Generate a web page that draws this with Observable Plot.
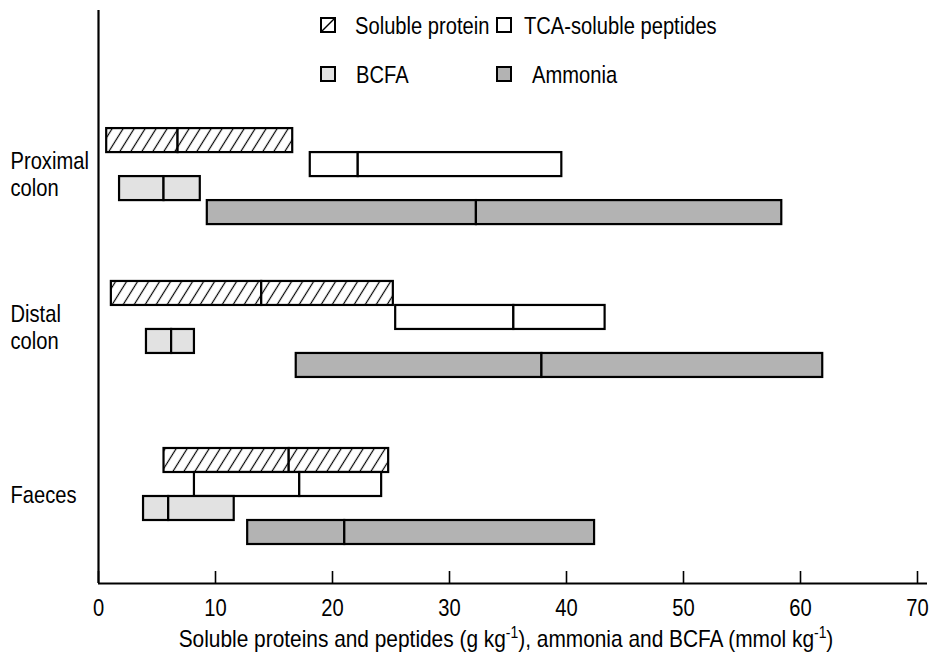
<!DOCTYPE html>
<html><head><meta charset="utf-8">
<script src="https://cdn.jsdelivr.net/npm/d3@7"></script>
<script src="https://cdn.jsdelivr.net/npm/@observablehq/plot@0.6"></script>
<style>body{margin:0;background:#fff} svg{display:block}</style>
</head><body><div id="chart"></div>
<script>
// ---- data ----
const sites = ["Proximal colon", "Distal colon", "Faeces"];
const siteLabels = ["Proximal\ncolon", "Distal\ncolon", "Faeces"];
const series = ["Soluble protein", "TCA-soluble peptides", "BCFA", "Ammonia"];
// low / median / high per site (order of `sites`)
const solubleProteinLow  = [0.7, 1.1, 5.6];
const solubleProteinMid  = [6.8, 13.95, 16.3];
const solubleProteinHigh = [16.6, 25.2, 24.8];
const tcaLow  = [18.1, 25.4, 8.2];
const tcaMid  = [22.2, 35.5, 17.2];
const tcaHigh = [39.6, 43.3, 24.2];
const bcfaLow  = [1.8, 4.1, 3.85];
const bcfaMid  = [5.6, 6.25, 6.0];
const bcfaHigh = [8.7, 8.2, 11.6];
const ammoniaLow  = [9.3, 16.9, 12.75];
const ammoniaMid  = [32.3, 37.9, 21.05];
const ammoniaHigh = [58.4, 61.9, 42.4];
const xTicks = [0, 10, 20, 30, 40, 50, 60, 70];
const xLabelParts = ["Soluble proteins and peptides (g kg", "-1", "), ammonia and BCFA (mmol kg", "-1", ")"];

// ---- layout ----
const W = 932, H = 663, mL = 98, mR = 15, mT = 10, mB = 80;
const yMax = 23.875;              // rows of 24px over the frame
const groupStart = [4.92, 11.29, 18.25];
const fills = ["url(#hatch)", "white", "#e2e2e2", "#b3b3b3"];
const FONT = "'Liberation Sans',Arial,sans-serif";
const CONDENSE = 0.84;

const lows = [solubleProteinLow, tcaLow, bcfaLow, ammoniaLow];
const mids = [solubleProteinMid, tcaMid, bcfaMid, ammoniaMid];
const highs = [solubleProteinHigh, tcaHigh, bcfaHigh, ammoniaHigh];

const segs = [];
sites.forEach((site, i) => series.forEach((s, j) => {
  const y1 = groupStart[i] + j, y2 = y1 + 1;
  segs.push({site, series: s, k: j, x1: lows[j][i], x2: mids[j][i], y1, y2});
  segs.push({site, series: s, k: j, x1: mids[j][i], x2: highs[j][i], y1, y2});
}));
const siteRows = sites.map((s, i) => ({site: s, label: siteLabels[i], y: groupStart[i] + 1.9}));

const barMarks = series.map((s, j) => Plot.rect(segs.filter(d => d.k === j), {
  x1: "x1", x2: "x2", y1: "y1", y2: "y2", fill: fills[j], stroke: "black", strokeWidth: 2.2
}));

const svg = Plot.plot({
  width: W, height: H, marginLeft: mL, marginRight: mR, marginTop: mT, marginBottom: mB,
  style: {fontFamily: FONT, fontSize: "24px", color: "black", background: "white"},
  x: {domain: [0, 70]},
  y: {domain: [0, yMax], reverse: true, axis: null},
  marks: [
    ...barMarks,
    Plot.ruleX(xTicks, {insetTop: (H - mT - mB) - 12, strokeWidth: 1.6}),
    Plot.ruleX([0], {strokeWidth: 2.2}),
    Plot.ruleY([yMax], {strokeWidth: 2.2, insetRight: -10}),
    Plot.axisX({ticks: xTicks, tickSize: 0, tickPadding: 15, label: null, fontSize: 24}),
    Plot.text(siteRows, {y: "y", text: "label", frameAnchor: "left", dx: -88, textAnchor: "start",
      lineAnchor: "middle", lineHeight: 1.1, fontSize: 24})
  ]
});

const root = d3.select(svg);
const defs = root.insert("defs", ":first-child");
const p = defs.append("pattern").attr("id", "hatch").attr("patternUnits", "userSpaceOnUse")
  .attr("width", 11).attr("height", 10).attr("patternTransform", "skewX(-32)");
p.append("rect").attr("width", 11).attr("height", 10).attr("fill", "white");
p.append("line").attr("x1", 5.5).attr("x2", 5.5).attr("y1", -1).attr("y2", 11)
  .attr("stroke", "black").attr("stroke-width", 1.4);

// condense Plot's texts horizontally (reference uses a narrow face)
root.selectAll("text").each(function() {
  const tr = this.getAttribute("transform") || "";
  this.setAttribute("transform", tr + ` scale(${CONDENSE},1)`);
});

// x-axis title with superscripts
const t = root.append("text").attr("transform", `translate(506,647) scale(0.87,1)`)
  .attr("text-anchor", "middle")
  .attr("font-family", FONT).attr("font-size", 24).attr("fill", "black");
xLabelParts.forEach((part, i) => {
  const sup = i % 2 === 1;
  t.append("tspan").attr("dy", sup ? -9 : (i > 0 ? 9 : 0)).attr("font-size", sup ? 16 : 24).text(part);
});

// legend
const legendPos = [[321, 18], [497, 18], [321, 67], [497, 67]];
const legendTextDx = [34, 27, 35, 35];
const lg = root.append("g").attr("font-family", FONT).attr("font-size", 24).attr("text-anchor", "start");
series.forEach((s, j) => {
  const [lx, ly] = legendPos[j];
  lg.append("rect").attr("x", lx).attr("y", ly).attr("width", 14).attr("height", 14)
    .attr("fill", j === 0 ? "white" : fills[j]).attr("stroke", "black").attr("stroke-width", 2);
  if (j === 0) lg.append("line").attr("x1", lx).attr("y1", ly + 14).attr("x2", lx + 14).attr("y2", ly)
    .attr("stroke", "black").attr("stroke-width", 1.5);
  lg.append("text").attr("text-anchor", "start")
    .attr("transform", `translate(${lx + legendTextDx[j]},${ly + 16}) scale(${CONDENSE},1)`).text(s);
});

document.getElementById("chart").appendChild(svg);
</script></body></html>
